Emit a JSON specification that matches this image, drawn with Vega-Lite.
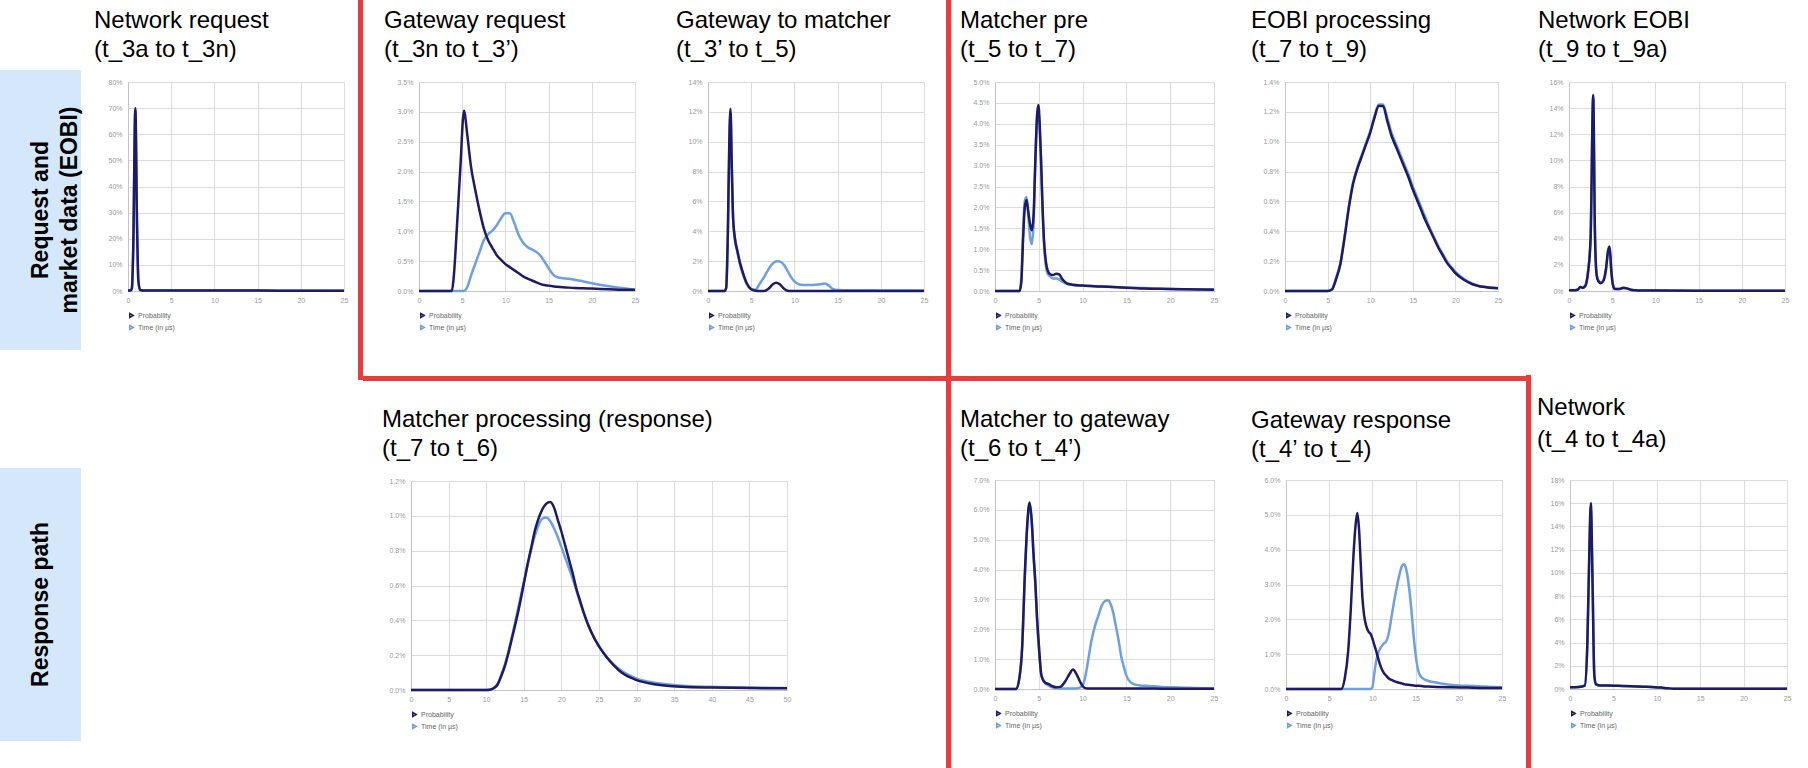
{
  "$schema": "https://vega.github.io/schema/vega-lite/v6.json",
  "padding": 0,
  "background": "white",
  "datasets": {
    "nr": [
      {"t": 0, "Probability": 0.002, "Time (in µs)": 0.002},
      {"t": 0.3, "Probability": 0.002, "Time (in µs)": 0.002},
      {"t": 0.45, "Probability": 0.01, "Time (in µs)": 0.012},
      {"t": 0.6, "Probability": 0.15, "Time (in µs)": 0.16},
      {"t": 0.85, "Probability": 0.70, "Time (in µs)": 0.69},
      {"t": 1.05, "Probability": 0.25, "Time (in µs)": 0.23},
      {"t": 1.2, "Probability": 0.04, "Time (in µs)": 0.035},
      {"t": 1.4, "Probability": 0.004, "Time (in µs)": 0.004},
      {"t": 2, "Probability": 0.002, "Time (in µs)": 0.002},
      {"t": 3, "Probability": 0.002, "Time (in µs)": 0.002},
      {"t": 5, "Probability": 0.002, "Time (in µs)": 0.002},
      {"t": 8, "Probability": 0.002, "Time (in µs)": 0.002},
      {"t": 10, "Probability": 0.002, "Time (in µs)": 0.002},
      {"t": 12, "Probability": 0.0015, "Time (in µs)": 0.0015},
      {"t": 15, "Probability": 0.0015, "Time (in µs)": 0.0015},
      {"t": 20, "Probability": 0.001, "Time (in µs)": 0.001},
      {"t": 25, "Probability": 0.001, "Time (in µs)": 0.001}
    ],
    "gr": [
      {"t": 0, "Probability": 0, "Time (in µs)": 0},
      {"t": 3.8, "Probability": 0, "Time (in µs)": 0},
      {"t": 4.0, "Probability": 0.002, "Time (in µs)": 0},
      {"t": 4.4, "Probability": 0.011, "Time (in µs)": 0},
      {"t": 4.8, "Probability": 0.021, "Time (in µs)": 0},
      {"t": 5.2, "Probability": 0.0302, "Time (in µs)": 0},
      {"t": 5.6, "Probability": 0.026, "Time (in µs)": 0.0007},
      {"t": 6.0, "Probability": 0.021, "Time (in µs)": 0.0025},
      {"t": 6.5, "Probability": 0.017, "Time (in µs)": 0.0045},
      {"t": 7.0, "Probability": 0.0135, "Time (in µs)": 0.0065},
      {"t": 7.5, "Probability": 0.0105, "Time (in µs)": 0.0085},
      {"t": 8.0, "Probability": 0.0085, "Time (in µs)": 0.0095},
      {"t": 8.5, "Probability": 0.0072, "Time (in µs)": 0.0101},
      {"t": 9.0, "Probability": 0.006, "Time (in µs)": 0.011},
      {"t": 9.5, "Probability": 0.0052, "Time (in µs)": 0.0122},
      {"t": 10.0, "Probability": 0.0045, "Time (in µs)": 0.013},
      {"t": 10.5, "Probability": 0.004, "Time (in µs)": 0.013},
      {"t": 11.0, "Probability": 0.0035, "Time (in µs)": 0.0115},
      {"t": 11.5, "Probability": 0.003, "Time (in µs)": 0.0095},
      {"t": 12.0, "Probability": 0.0025, "Time (in µs)": 0.0082},
      {"t": 12.5, "Probability": 0.0021, "Time (in µs)": 0.0074},
      {"t": 13.0, "Probability": 0.0018, "Time (in µs)": 0.007},
      {"t": 13.5, "Probability": 0.0015, "Time (in µs)": 0.0066},
      {"t": 14.0, "Probability": 0.0012, "Time (in µs)": 0.006},
      {"t": 14.5, "Probability": 0.001, "Time (in µs)": 0.005},
      {"t": 15.0, "Probability": 0.0009, "Time (in µs)": 0.0038},
      {"t": 15.5, "Probability": 0.0008, "Time (in µs)": 0.0028},
      {"t": 16, "Probability": 0.0007, "Time (in µs)": 0.0023},
      {"t": 17, "Probability": 0.0006, "Time (in µs)": 0.0021},
      {"t": 18, "Probability": 0.0005, "Time (in µs)": 0.0019},
      {"t": 19, "Probability": 0.00045, "Time (in µs)": 0.0016},
      {"t": 20, "Probability": 0.0004, "Time (in µs)": 0.0013},
      {"t": 22, "Probability": 0.0003, "Time (in µs)": 0.0008},
      {"t": 24, "Probability": 0.0002, "Time (in µs)": 0.0004},
      {"t": 25, "Probability": 0.0002, "Time (in µs)": 0.0002}
    ],
    "gm": [
      {"t": 0, "Probability": 0, "Time (in µs)": 0},
      {"t": 1.9, "Probability": 0, "Time (in µs)": 0},
      {"t": 2.1, "Probability": 0.002, "Time (in µs)": 0.002},
      {"t": 2.3, "Probability": 0.04, "Time (in µs)": 0.038},
      {"t": 2.45, "Probability": 0.095, "Time (in µs)": 0.092},
      {"t": 2.6, "Probability": 0.122, "Time (in µs)": 0.12},
      {"t": 2.75, "Probability": 0.085, "Time (in µs)": 0.083},
      {"t": 2.9, "Probability": 0.05, "Time (in µs)": 0.049},
      {"t": 3.1, "Probability": 0.036, "Time (in µs)": 0.035},
      {"t": 3.4, "Probability": 0.027, "Time (in µs)": 0.026},
      {"t": 3.7, "Probability": 0.019, "Time (in µs)": 0.018},
      {"t": 4.0, "Probability": 0.013, "Time (in µs)": 0.012},
      {"t": 4.5, "Probability": 0.005, "Time (in µs)": 0.0045},
      {"t": 5.0, "Probability": 0.0012, "Time (in µs)": 0.0012},
      {"t": 5.5, "Probability": 0.0002, "Time (in µs)": 0.001},
      {"t": 6.0, "Probability": 0, "Time (in µs)": 0.005},
      {"t": 6.5, "Probability": 0, "Time (in µs)": 0.0095},
      {"t": 7.0, "Probability": 0.0015, "Time (in µs)": 0.0145},
      {"t": 7.5, "Probability": 0.0045, "Time (in µs)": 0.0185},
      {"t": 7.9, "Probability": 0.0056, "Time (in µs)": 0.02},
      {"t": 8.3, "Probability": 0.0045, "Time (in µs)": 0.0198},
      {"t": 8.8, "Probability": 0.0015, "Time (in µs)": 0.0175},
      {"t": 9.2, "Probability": 0.0002, "Time (in µs)": 0.0135},
      {"t": 9.6, "Probability": 0, "Time (in µs)": 0.0095},
      {"t": 10.0, "Probability": 0, "Time (in µs)": 0.0065},
      {"t": 10.5, "Probability": 0, "Time (in µs)": 0.0045},
      {"t": 11, "Probability": 0, "Time (in µs)": 0.004},
      {"t": 12, "Probability": 0, "Time (in µs)": 0.004},
      {"t": 13, "Probability": 0, "Time (in µs)": 0.0045},
      {"t": 13.5, "Probability": 0, "Time (in µs)": 0.005},
      {"t": 14, "Probability": 0, "Time (in µs)": 0.0035},
      {"t": 14.5, "Probability": 0, "Time (in µs)": 0.0012},
      {"t": 15, "Probability": 0, "Time (in µs)": 0.0007},
      {"t": 17, "Probability": 0, "Time (in µs)": 0.0005},
      {"t": 20, "Probability": 0, "Time (in µs)": 0.0004},
      {"t": 25, "Probability": 0, "Time (in µs)": 0.0003}
    ],
    "mp": [
      {"t": 0, "Probability": 0, "Time (in µs)": 0},
      {"t": 2.8, "Probability": 0, "Time (in µs)": 0},
      {"t": 3.0, "Probability": 0.002, "Time (in µs)": 0.003},
      {"t": 3.2, "Probability": 0.012, "Time (in µs)": 0.014},
      {"t": 3.4, "Probability": 0.02, "Time (in µs)": 0.0215},
      {"t": 3.6, "Probability": 0.0218, "Time (in µs)": 0.0225},
      {"t": 3.8, "Probability": 0.019, "Time (in µs)": 0.018},
      {"t": 4.0, "Probability": 0.016, "Time (in µs)": 0.013},
      {"t": 4.2, "Probability": 0.0145, "Time (in µs)": 0.0112},
      {"t": 4.4, "Probability": 0.018, "Time (in µs)": 0.016},
      {"t": 4.6, "Probability": 0.031, "Time (in µs)": 0.03},
      {"t": 4.8, "Probability": 0.042, "Time (in µs)": 0.0415},
      {"t": 4.95, "Probability": 0.0445, "Time (in µs)": 0.0435},
      {"t": 5.1, "Probability": 0.04, "Time (in µs)": 0.039},
      {"t": 5.25, "Probability": 0.032, "Time (in µs)": 0.031},
      {"t": 5.4, "Probability": 0.022, "Time (in µs)": 0.021},
      {"t": 5.6, "Probability": 0.012, "Time (in µs)": 0.011},
      {"t": 5.8, "Probability": 0.0072, "Time (in µs)": 0.006},
      {"t": 6.0, "Probability": 0.005, "Time (in µs)": 0.0042},
      {"t": 6.3, "Probability": 0.004, "Time (in µs)": 0.0035},
      {"t": 6.6, "Probability": 0.0038, "Time (in µs)": 0.003},
      {"t": 7.0, "Probability": 0.0041, "Time (in µs)": 0.003},
      {"t": 7.3, "Probability": 0.004, "Time (in µs)": 0.0028},
      {"t": 7.7, "Probability": 0.0028, "Time (in µs)": 0.0022},
      {"t": 8.2, "Probability": 0.0018, "Time (in µs)": 0.0017},
      {"t": 8.8, "Probability": 0.0015, "Time (in µs)": 0.0015},
      {"t": 10, "Probability": 0.0013, "Time (in µs)": 0.0013},
      {"t": 12, "Probability": 0.0011, "Time (in µs)": 0.0011},
      {"t": 14, "Probability": 0.0009, "Time (in µs)": 0.0009},
      {"t": 17, "Probability": 0.0006, "Time (in µs)": 0.0007},
      {"t": 20, "Probability": 0.0005, "Time (in µs)": 0.0005},
      {"t": 25, "Probability": 0.0003, "Time (in µs)": 0.0004}
    ],
    "eobi": [
      {"t": 0, "Probability": 0, "Time (in µs)": 0},
      {"t": 5.0, "Probability": 0, "Time (in µs)": 0},
      {"t": 5.5, "Probability": 0.0001, "Time (in µs)": 0.0001},
      {"t": 6, "Probability": 0.0008, "Time (in µs)": 0.0009},
      {"t": 6.5, "Probability": 0.0018, "Time (in µs)": 0.0019},
      {"t": 7, "Probability": 0.0036, "Time (in µs)": 0.0037},
      {"t": 7.5, "Probability": 0.0056, "Time (in µs)": 0.0057},
      {"t": 8, "Probability": 0.0072, "Time (in µs)": 0.0073},
      {"t": 8.5, "Probability": 0.0082, "Time (in µs)": 0.0083},
      {"t": 9, "Probability": 0.009, "Time (in µs)": 0.0091},
      {"t": 9.5, "Probability": 0.0098, "Time (in µs)": 0.0099},
      {"t": 10, "Probability": 0.0106, "Time (in µs)": 0.0107},
      {"t": 10.5, "Probability": 0.0116, "Time (in µs)": 0.0117},
      {"t": 11, "Probability": 0.0124, "Time (in µs)": 0.0125},
      {"t": 11.5, "Probability": 0.0124, "Time (in µs)": 0.0125},
      {"t": 12, "Probability": 0.0114, "Time (in µs)": 0.0116},
      {"t": 12.5, "Probability": 0.0104, "Time (in µs)": 0.0106},
      {"t": 13, "Probability": 0.0097, "Time (in µs)": 0.0099},
      {"t": 13.5, "Probability": 0.009, "Time (in µs)": 0.0092},
      {"t": 14, "Probability": 0.0083, "Time (in µs)": 0.0085},
      {"t": 14.5, "Probability": 0.0076, "Time (in µs)": 0.0078},
      {"t": 15, "Probability": 0.0068, "Time (in µs)": 0.007},
      {"t": 15.5, "Probability": 0.0061, "Time (in µs)": 0.0063},
      {"t": 16, "Probability": 0.0054, "Time (in µs)": 0.0056},
      {"t": 16.5, "Probability": 0.0047, "Time (in µs)": 0.0049},
      {"t": 17, "Probability": 0.0041, "Time (in µs)": 0.0042},
      {"t": 17.5, "Probability": 0.0035, "Time (in µs)": 0.0036},
      {"t": 18, "Probability": 0.0029, "Time (in µs)": 0.003},
      {"t": 18.5, "Probability": 0.0024, "Time (in µs)": 0.0025},
      {"t": 19, "Probability": 0.0019, "Time (in µs)": 0.002},
      {"t": 19.5, "Probability": 0.00155, "Time (in µs)": 0.0016},
      {"t": 20, "Probability": 0.0012, "Time (in µs)": 0.0013},
      {"t": 21, "Probability": 0.00075, "Time (in µs)": 0.0008},
      {"t": 22, "Probability": 0.00045, "Time (in µs)": 0.0005},
      {"t": 23, "Probability": 0.0003, "Time (in µs)": 0.0003},
      {"t": 24, "Probability": 0.00022, "Time (in µs)": 0.00025},
      {"t": 25, "Probability": 0.00018, "Time (in µs)": 0.0002}
    ],
    "ne": [
      {"t": 0, "Probability": 0.0005, "Time (in µs)": 0.0005},
      {"t": 0.5, "Probability": 0.0005, "Time (in µs)": 0.0006},
      {"t": 1.0, "Probability": 0.001, "Time (in µs)": 0.001},
      {"t": 1.3, "Probability": 0.003, "Time (in µs)": 0.0028},
      {"t": 1.6, "Probability": 0.0025, "Time (in µs)": 0.0025},
      {"t": 1.9, "Probability": 0.004, "Time (in µs)": 0.0045},
      {"t": 2.2, "Probability": 0.014, "Time (in µs)": 0.015},
      {"t": 2.5, "Probability": 0.04, "Time (in µs)": 0.042},
      {"t": 2.8, "Probability": 0.15, "Time (in µs)": 0.148},
      {"t": 3.0, "Probability": 0.045, "Time (in µs)": 0.046},
      {"t": 3.2, "Probability": 0.012, "Time (in µs)": 0.013},
      {"t": 3.4, "Probability": 0.0075, "Time (in µs)": 0.008},
      {"t": 3.7, "Probability": 0.006, "Time (in µs)": 0.0065},
      {"t": 4.0, "Probability": 0.008, "Time (in µs)": 0.0085},
      {"t": 4.3, "Probability": 0.018, "Time (in µs)": 0.017},
      {"t": 4.5, "Probability": 0.03, "Time (in µs)": 0.029},
      {"t": 4.7, "Probability": 0.034, "Time (in µs)": 0.033},
      {"t": 4.9, "Probability": 0.015, "Time (in µs)": 0.016},
      {"t": 5.1, "Probability": 0.004, "Time (in µs)": 0.0045},
      {"t": 5.3, "Probability": 0.0015, "Time (in µs)": 0.0018},
      {"t": 5.8, "Probability": 0.0015, "Time (in µs)": 0.0015},
      {"t": 6.3, "Probability": 0.0025, "Time (in µs)": 0.0022},
      {"t": 6.7, "Probability": 0.002, "Time (in µs)": 0.0018},
      {"t": 7.3, "Probability": 0.0007, "Time (in µs)": 0.0007},
      {"t": 8, "Probability": 0.0004, "Time (in µs)": 0.0004},
      {"t": 10, "Probability": 0.0003, "Time (in µs)": 0.0003},
      {"t": 15, "Probability": 0.0002, "Time (in µs)": 0.0002},
      {"t": 20, "Probability": 0.0002, "Time (in µs)": 0.0002},
      {"t": 25, "Probability": 0.0002, "Time (in µs)": 0.0002}
    ],
    "mproc": [
      {"t": 0, "Probability": 0, "Time (in µs)": 0},
      {"t": 10, "Probability": 0, "Time (in µs)": 0},
      {"t": 10.5, "Probability": 0.00002, "Time (in µs)": 0.00003},
      {"t": 11, "Probability": 0.0001, "Time (in µs)": 0.00012},
      {"t": 11.5, "Probability": 0.0003, "Time (in µs)": 0.00035},
      {"t": 12, "Probability": 0.0008, "Time (in µs)": 0.00085},
      {"t": 12.5, "Probability": 0.0014, "Time (in µs)": 0.0015},
      {"t": 13, "Probability": 0.0022, "Time (in µs)": 0.0023},
      {"t": 13.5, "Probability": 0.0031, "Time (in µs)": 0.0032},
      {"t": 14, "Probability": 0.004, "Time (in µs)": 0.0042},
      {"t": 14.5, "Probability": 0.005, "Time (in µs)": 0.0052},
      {"t": 15, "Probability": 0.0061, "Time (in µs)": 0.0062},
      {"t": 15.5, "Probability": 0.0072, "Time (in µs)": 0.0072},
      {"t": 16, "Probability": 0.0082, "Time (in µs)": 0.0081},
      {"t": 16.5, "Probability": 0.0092, "Time (in µs)": 0.0089},
      {"t": 17, "Probability": 0.0099, "Time (in µs)": 0.0095},
      {"t": 17.5, "Probability": 0.0104, "Time (in µs)": 0.00985},
      {"t": 18, "Probability": 0.0107, "Time (in µs)": 0.0099},
      {"t": 18.5, "Probability": 0.0108, "Time (in µs)": 0.0097},
      {"t": 19, "Probability": 0.0105, "Time (in µs)": 0.0093},
      {"t": 19.5, "Probability": 0.0098, "Time (in µs)": 0.0088},
      {"t": 20, "Probability": 0.0091, "Time (in µs)": 0.0082},
      {"t": 20.5, "Probability": 0.0083, "Time (in µs)": 0.0076},
      {"t": 21, "Probability": 0.0075, "Time (in µs)": 0.007},
      {"t": 21.5, "Probability": 0.0067, "Time (in µs)": 0.0064},
      {"t": 22, "Probability": 0.0058, "Time (in µs)": 0.0057},
      {"t": 22.5, "Probability": 0.0051, "Time (in µs)": 0.005},
      {"t": 23, "Probability": 0.0044, "Time (in µs)": 0.0044},
      {"t": 23.5, "Probability": 0.0038, "Time (in µs)": 0.0038},
      {"t": 24, "Probability": 0.0033, "Time (in µs)": 0.0033},
      {"t": 25, "Probability": 0.0025, "Time (in µs)": 0.0025},
      {"t": 26, "Probability": 0.0019, "Time (in µs)": 0.0019},
      {"t": 27, "Probability": 0.0014, "Time (in µs)": 0.00145},
      {"t": 28, "Probability": 0.001, "Time (in µs)": 0.0011},
      {"t": 29, "Probability": 0.00075, "Time (in µs)": 0.00085},
      {"t": 30, "Probability": 0.00057, "Time (in µs)": 0.00065},
      {"t": 32, "Probability": 0.00036, "Time (in µs)": 0.00045},
      {"t": 34, "Probability": 0.00025, "Time (in µs)": 0.00033},
      {"t": 36, "Probability": 0.00019, "Time (in µs)": 0.00025},
      {"t": 40, "Probability": 0.00014, "Time (in µs)": 0.00018},
      {"t": 45, "Probability": 0.00011, "Time (in µs)": 0.00014},
      {"t": 50, "Probability": 0.0001, "Time (in µs)": 0.00012}
    ],
    "mtg": [
      {"t": 0, "Probability": 0, "Time (in µs)": 0},
      {"t": 2.4, "Probability": 0, "Time (in µs)": 0},
      {"t": 2.8, "Probability": 0.004, "Time (in µs)": 0.004},
      {"t": 3.1, "Probability": 0.014, "Time (in µs)": 0.014},
      {"t": 3.4, "Probability": 0.038, "Time (in µs)": 0.037},
      {"t": 3.7, "Probability": 0.056, "Time (in µs)": 0.055},
      {"t": 3.95, "Probability": 0.0625, "Time (in µs)": 0.062},
      {"t": 4.2, "Probability": 0.056, "Time (in µs)": 0.0555},
      {"t": 4.4, "Probability": 0.045, "Time (in µs)": 0.045},
      {"t": 4.6, "Probability": 0.036, "Time (in µs)": 0.035},
      {"t": 4.8, "Probability": 0.024, "Time (in µs)": 0.023},
      {"t": 5.0, "Probability": 0.015, "Time (in µs)": 0.014},
      {"t": 5.3, "Probability": 0.0045, "Time (in µs)": 0.0045},
      {"t": 5.7, "Probability": 0.0022, "Time (in µs)": 0.002},
      {"t": 6.1, "Probability": 0.0017, "Time (in µs)": 0.0012},
      {"t": 6.5, "Probability": 0.001, "Time (in µs)": 0.0006},
      {"t": 7.0, "Probability": 0.0006, "Time (in µs)": 0.0003},
      {"t": 7.5, "Probability": 0.0008, "Time (in µs)": 0.0002},
      {"t": 8.0, "Probability": 0.0025, "Time (in µs)": 0.0002},
      {"t": 8.5, "Probability": 0.005, "Time (in µs)": 0.0002},
      {"t": 8.9, "Probability": 0.0065, "Time (in µs)": 0.0002},
      {"t": 9.3, "Probability": 0.005, "Time (in µs)": 0.0002},
      {"t": 9.7, "Probability": 0.0025, "Time (in µs)": 0.0005},
      {"t": 10.0, "Probability": 0.001, "Time (in µs)": 0.0012},
      {"t": 10.3, "Probability": 0.0003, "Time (in µs)": 0.004},
      {"t": 10.6, "Probability": 0.0002, "Time (in µs)": 0.009},
      {"t": 11.0, "Probability": 0.0002, "Time (in µs)": 0.016},
      {"t": 11.4, "Probability": 0.0002, "Time (in µs)": 0.021},
      {"t": 11.8, "Probability": 0.0002, "Time (in µs)": 0.0246},
      {"t": 12.2, "Probability": 0.0002, "Time (in µs)": 0.028},
      {"t": 12.6, "Probability": 0.0002, "Time (in µs)": 0.0295},
      {"t": 12.9, "Probability": 0.0002, "Time (in µs)": 0.0297},
      {"t": 13.2, "Probability": 0.0002, "Time (in µs)": 0.0285},
      {"t": 13.5, "Probability": 0.0002, "Time (in µs)": 0.0255},
      {"t": 13.8, "Probability": 0.0002, "Time (in µs)": 0.021},
      {"t": 14.1, "Probability": 0.0002, "Time (in µs)": 0.0165},
      {"t": 14.4, "Probability": 0.0002, "Time (in µs)": 0.011},
      {"t": 14.7, "Probability": 0.0002, "Time (in µs)": 0.0075},
      {"t": 15.0, "Probability": 0.0002, "Time (in µs)": 0.0045},
      {"t": 15.3, "Probability": 0.0002, "Time (in µs)": 0.0028},
      {"t": 15.7, "Probability": 0.0002, "Time (in µs)": 0.0018},
      {"t": 16.5, "Probability": 0.0002, "Time (in µs)": 0.0012},
      {"t": 17.5, "Probability": 0.0002, "Time (in µs)": 0.001},
      {"t": 19, "Probability": 0.0001, "Time (in µs)": 0.0007},
      {"t": 21, "Probability": 0.0001, "Time (in µs)": 0.0005},
      {"t": 23, "Probability": 0.0001, "Time (in µs)": 0.0003},
      {"t": 25, "Probability": 0.0001, "Time (in µs)": 0.0002}
    ],
    "gresp": [
      {"t": 0, "Probability": 0, "Time (in µs)": 0},
      {"t": 6.4, "Probability": 0, "Time (in µs)": 0},
      {"t": 6.8, "Probability": 0.003, "Time (in µs)": 0},
      {"t": 7.2, "Probability": 0.011, "Time (in µs)": 0},
      {"t": 7.5, "Probability": 0.023, "Time (in µs)": 0},
      {"t": 7.8, "Probability": 0.038, "Time (in µs)": 0},
      {"t": 8.05, "Probability": 0.047, "Time (in µs)": 0},
      {"t": 8.25, "Probability": 0.0505, "Time (in µs)": 0},
      {"t": 8.45, "Probability": 0.046, "Time (in µs)": 0},
      {"t": 8.65, "Probability": 0.036, "Time (in µs)": 0},
      {"t": 8.85, "Probability": 0.026, "Time (in µs)": 0},
      {"t": 9.05, "Probability": 0.021, "Time (in µs)": 0},
      {"t": 9.3, "Probability": 0.018, "Time (in µs)": 0},
      {"t": 9.55, "Probability": 0.0165, "Time (in µs)": 0},
      {"t": 9.8, "Probability": 0.0158, "Time (in µs)": 0},
      {"t": 10.0, "Probability": 0.0145, "Time (in µs)": 0.0005},
      {"t": 10.2, "Probability": 0.0128, "Time (in µs)": 0.004},
      {"t": 10.4, "Probability": 0.0112, "Time (in µs)": 0.0075},
      {"t": 10.7, "Probability": 0.0085, "Time (in µs)": 0.0105},
      {"t": 11.0, "Probability": 0.0062, "Time (in µs)": 0.012},
      {"t": 11.3, "Probability": 0.0047, "Time (in µs)": 0.013},
      {"t": 11.6, "Probability": 0.0038, "Time (in µs)": 0.0137},
      {"t": 11.9, "Probability": 0.003, "Time (in µs)": 0.016},
      {"t": 12.2, "Probability": 0.0026, "Time (in µs)": 0.0205},
      {"t": 12.5, "Probability": 0.0023, "Time (in µs)": 0.025},
      {"t": 12.8, "Probability": 0.002, "Time (in µs)": 0.029},
      {"t": 13.1, "Probability": 0.0018, "Time (in µs)": 0.0325},
      {"t": 13.4, "Probability": 0.0016, "Time (in µs)": 0.0352},
      {"t": 13.65, "Probability": 0.0014, "Time (in µs)": 0.0358},
      {"t": 13.9, "Probability": 0.0013, "Time (in µs)": 0.0345},
      {"t": 14.2, "Probability": 0.0012, "Time (in µs)": 0.03},
      {"t": 14.5, "Probability": 0.0011, "Time (in µs)": 0.023},
      {"t": 14.8, "Probability": 0.001, "Time (in µs)": 0.0145},
      {"t": 15.1, "Probability": 0.0009, "Time (in µs)": 0.008},
      {"t": 15.4, "Probability": 0.0009, "Time (in µs)": 0.0045},
      {"t": 15.8, "Probability": 0.0008, "Time (in µs)": 0.0031},
      {"t": 16.5, "Probability": 0.0007, "Time (in µs)": 0.0023},
      {"t": 17.5, "Probability": 0.0006, "Time (in µs)": 0.0018},
      {"t": 19, "Probability": 0.0005, "Time (in µs)": 0.0012},
      {"t": 21, "Probability": 0.0004, "Time (in µs)": 0.0009},
      {"t": 23, "Probability": 0.0003, "Time (in µs)": 0.0007},
      {"t": 25, "Probability": 0.0003, "Time (in µs)": 0.0005}
    ],
    "net": [
      {"t": 0, "Probability": 0.0015, "Time (in µs)": 0.0015},
      {"t": 1, "Probability": 0.0018, "Time (in µs)": 0.0018},
      {"t": 1.7, "Probability": 0.003, "Time (in µs)": 0.003},
      {"t": 2.0, "Probability": 0.04, "Time (in µs)": 0.038},
      {"t": 2.2, "Probability": 0.11, "Time (in µs)": 0.105},
      {"t": 2.4, "Probability": 0.16, "Time (in µs)": 0.158},
      {"t": 2.6, "Probability": 0.09, "Time (in µs)": 0.092},
      {"t": 2.8, "Probability": 0.012, "Time (in µs)": 0.013},
      {"t": 3.0, "Probability": 0.004, "Time (in µs)": 0.004},
      {"t": 3.5, "Probability": 0.003, "Time (in µs)": 0.003},
      {"t": 4.4, "Probability": 0.003, "Time (in µs)": 0.003},
      {"t": 5.5, "Probability": 0.0027, "Time (in µs)": 0.0027},
      {"t": 7.1, "Probability": 0.0023, "Time (in µs)": 0.0023},
      {"t": 8.5, "Probability": 0.002, "Time (in µs)": 0.002},
      {"t": 9.8, "Probability": 0.0016, "Time (in µs)": 0.0016},
      {"t": 10.5, "Probability": 0.0012, "Time (in µs)": 0.0012},
      {"t": 11.3, "Probability": 0.0006, "Time (in µs)": 0.0006},
      {"t": 12, "Probability": 0.0003, "Time (in µs)": 0.0003},
      {"t": 15, "Probability": 0.0003, "Time (in µs)": 0.0003},
      {"t": 20, "Probability": 0.0002, "Time (in µs)": 0.0002},
      {"t": 25, "Probability": 0.0002, "Time (in µs)": 0.0002}
    ]
  },
  "spacing": 0,
  "resolve": {"scale": {"color": "independent"}},
  "hconcat": [
    {
      "spacing": 0,
      "vconcat": [
        {"width": 93, "height": 70, "data": {"values": []}, "mark": "rect", "encoding": {}},
        {"width": 81, "height": 280, "view": {"fill": "#d5e8fb"},
         "data": {"values": [{"label": "Request and\nmarket data (EOBI)"}]},
         "mark": {"type": "text", "angle": 270, "fontSize": 23, "fontWeight": "bold", "font": "Liberation Sans", "lineBreak": "\n", "lineHeight": 29, "align": "center", "baseline": "middle", "color": "#000000"},
         "encoding": {"text": {"field": "label"}}},
        {"width": 93, "height": 118, "data": {"values": []}, "mark": "rect", "encoding": {}},
        {"width": 81, "height": 273, "view": {"fill": "#d5e8fb"},
         "data": {"values": [{"label": "Response path"}]},
         "mark": {"type": "text", "angle": 270, "fontSize": 23, "fontWeight": "bold", "font": "Liberation Sans", "align": "center", "baseline": "middle", "color": "#000000"},
         "encoding": {"text": {"field": "label"}}}
      ]
    },
    {
      "spacing": 0,
      "resolve": {"scale": {"color": "independent"}},
      "vconcat": [
        {"width": 230, "height": 8, "data": {"values": []}, "mark": "rect", "encoding": {}},
        {"width": 216, "height": 209, "view": {"stroke": "#d6d6d6"},
         "title": {"text": ["Network request", "(t_3a to t_3n)"], "dx": -34, "offset": 16},
         "data": {"name": "nr"},
         "transform": [{"fold": ["Time (in µs)", "Probability"], "as": ["series", "share"]}],
         "mark": {"type": "line", "interpolate": "monotone", "strokeWidth": 2.5},
         "encoding": {
           "x": {"field": "t", "type": "quantitative", "scale": {"domain": [0, 25], "nice": false}, "axis": {"values": [0, 5, 10, 15, 20, 25], "title": null}},
           "y": {"field": "share", "type": "quantitative", "scale": {"domain": [0, 0.8], "nice": false}, "axis": {"values": [0, 0.1, 0.2, 0.3, 0.4, 0.5, 0.6, 0.7, 0.8], "format": ".0%", "title": null}},
           "color": {"field": "series", "type": "nominal", "scale": {"domain": ["Probability", "Time (in µs)"], "range": ["#1d1a66", "#6ea0e0"]}, "legend": {"title": null}}
         }}
      ]
    },
    {"width": 5, "height": 380, "data": {"values": []}, "mark": "rect", "encoding": {}, "view": {"fill": "#eb3b3b"}},
    {
      "spacing": 0,
      "resolve": {"scale": {"color": "independent"}},
      "vconcat": [
        {"width": 583, "height": 8, "data": {"values": []}, "mark": "rect", "encoding": {}},
        {
          "spacing": 0,
          "resolve": {"scale": {"color": "independent"}},
          "hconcat": [
            {"width": 20, "height": 294, "data": {"values": []}, "mark": "rect", "encoding": {}},
            {"width": 216, "height": 209, "view": {"stroke": "#d6d6d6"},
             "title": {"text": ["Gateway request", "(t_3n to t_3’)"], "dx": -35, "offset": 16},
             "data": {"name": "gr"},
             "transform": [{"fold": ["Time (in µs)", "Probability"], "as": ["series", "share"]}],
             "mark": {"type": "line", "interpolate": "monotone", "strokeWidth": 2.5},
             "encoding": {
               "x": {"field": "t", "type": "quantitative", "scale": {"domain": [0, 25], "nice": false}, "axis": {"values": [0, 5, 10, 15, 20, 25], "title": null}},
               "y": {"field": "share", "type": "quantitative", "scale": {"domain": [0, 0.035], "nice": false}, "axis": {"values": [0, 0.005, 0.01, 0.015, 0.02, 0.025, 0.03, 0.035], "format": ".1%", "title": null}},
               "color": {"field": "series", "type": "nominal", "scale": {"domain": ["Probability", "Time (in µs)"], "range": ["#1d1a66", "#6ea0e0"]}, "legend": {"title": null}}
             }},
            {"width": 34, "height": 1, "data": {"values": []}, "mark": "rect", "encoding": {}},
            {"width": 216, "height": 209, "view": {"stroke": "#d6d6d6"},
             "title": {"text": ["Gateway to matcher", "(t_3’ to t_5)"], "dx": -32, "offset": 16},
             "data": {"name": "gm"},
             "transform": [{"fold": ["Time (in µs)", "Probability"], "as": ["series", "share"]}],
             "mark": {"type": "line", "interpolate": "monotone", "strokeWidth": 2.5},
             "encoding": {
               "x": {"field": "t", "type": "quantitative", "scale": {"domain": [0, 25], "nice": false}, "axis": {"values": [0, 5, 10, 15, 20, 25], "title": null}},
               "y": {"field": "share", "type": "quantitative", "scale": {"domain": [0, 0.14], "nice": false}, "axis": {"values": [0, 0.02, 0.04, 0.06, 0.08, 0.1, 0.12, 0.14], "format": ".0%", "title": null}},
               "color": {"field": "series", "type": "nominal", "scale": {"domain": ["Probability", "Time (in µs)"], "range": ["#1d1a66", "#6ea0e0"]}, "legend": {"title": null}}
             }}
          ]
        },
        {"width": 583, "height": 5, "data": {"values": []}, "mark": "rect", "encoding": {}, "view": {"fill": "#eb3b3b"}},
        {"width": 583, "height": 26, "data": {"values": []}, "mark": "rect", "encoding": {}},
        {
          "spacing": 0,
          "resolve": {"scale": {"color": "independent"}},
          "hconcat": [
            {"width": 18, "height": 1, "data": {"values": []}, "mark": "rect", "encoding": {}},
            {"width": 376, "height": 209, "view": {"stroke": "#d6d6d6"},
             "title": {"text": ["Matcher processing (response)", "(t_7 to t_6)"], "dx": -29, "offset": 16},
             "data": {"name": "mproc"},
             "transform": [{"fold": ["Time (in µs)", "Probability"], "as": ["series", "share"]}],
             "mark": {"type": "line", "interpolate": "monotone", "strokeWidth": 2.5},
             "encoding": {
               "x": {"field": "t", "type": "quantitative", "scale": {"domain": [0, 50], "nice": false}, "axis": {"values": [0, 5, 10, 15, 20, 25, 30, 35, 40, 45, 50], "title": null}},
               "y": {"field": "share", "type": "quantitative", "scale": {"domain": [0, 0.012], "nice": false}, "axis": {"values": [0, 0.002, 0.004, 0.006, 0.008, 0.01, 0.012], "format": ".1%", "title": null}},
               "color": {"field": "series", "type": "nominal", "scale": {"domain": ["Probability", "Time (in µs)"], "range": ["#1d1a66", "#6ea0e0"]}, "legend": {"title": null}}
             }}
          ]
        }
      ]
    },
    {"width": 5, "height": 768, "data": {"values": []}, "mark": "rect", "encoding": {}, "view": {"fill": "#eb3b3b"}},
    {
      "spacing": 0,
      "resolve": {"scale": {"color": "independent"}},
      "vconcat": [
        {"width": 575, "height": 8, "data": {"values": []}, "mark": "rect", "encoding": {}},
        {
          "spacing": 0,
          "resolve": {"scale": {"color": "independent"}},
          "hconcat": [
            {"width": 8, "height": 294, "data": {"values": []}, "mark": "rect", "encoding": {}},
            {"width": 219, "height": 209, "view": {"stroke": "#d6d6d6"},
             "title": {"text": ["Matcher pre", "(t_5 to t_7)"], "dx": -35, "offset": 16},
             "data": {"name": "mp"},
             "transform": [{"fold": ["Time (in µs)", "Probability"], "as": ["series", "share"]}],
             "mark": {"type": "line", "interpolate": "monotone", "strokeWidth": 2.5},
             "encoding": {
               "x": {"field": "t", "type": "quantitative", "scale": {"domain": [0, 25], "nice": false}, "axis": {"values": [0, 5, 10, 15, 20, 25], "title": null}},
               "y": {"field": "share", "type": "quantitative", "scale": {"domain": [0, 0.05], "nice": false}, "axis": {"values": [0, 0.005, 0.01, 0.015, 0.02, 0.025, 0.03, 0.035, 0.04, 0.045, 0.05], "format": ".1%", "title": null}},
               "color": {"field": "series", "type": "nominal", "scale": {"domain": ["Probability", "Time (in µs)"], "range": ["#1d1a66", "#6ea0e0"]}, "legend": {"title": null}}
             }},
            {"width": 30, "height": 1, "data": {"values": []}, "mark": "rect", "encoding": {}},
            {"width": 213, "height": 209, "view": {"stroke": "#d6d6d6"},
             "title": {"text": ["EOBI processing", "(t_7 to t_9)"], "dx": -34, "offset": 16},
             "data": {"name": "eobi"},
             "transform": [{"fold": ["Time (in µs)", "Probability"], "as": ["series", "share"]}],
             "mark": {"type": "line", "interpolate": "monotone", "strokeWidth": 2.5},
             "encoding": {
               "x": {"field": "t", "type": "quantitative", "scale": {"domain": [0, 25], "nice": false}, "axis": {"values": [0, 5, 10, 15, 20, 25], "title": null}},
               "y": {"field": "share", "type": "quantitative", "scale": {"domain": [0, 0.014], "nice": false}, "axis": {"values": [0, 0.002, 0.004, 0.006, 0.008, 0.01, 0.012, 0.014], "format": ".1%", "title": null}},
               "color": {"field": "series", "type": "nominal", "scale": {"domain": ["Probability", "Time (in µs)"], "range": ["#1d1a66", "#6ea0e0"]}, "legend": {"title": null}}
             }}
          ]
        },
        {"width": 575, "height": 5, "data": {"values": []}, "mark": "rect", "encoding": {}, "view": {"fill": "#eb3b3b"}},
        {"width": 575, "height": 26, "data": {"values": []}, "mark": "rect", "encoding": {}},
        {
          "spacing": 0,
          "resolve": {"scale": {"color": "independent"}},
          "hconcat": [
            {"width": 8, "height": 1, "data": {"values": []}, "mark": "rect", "encoding": {}},
            {"width": 219, "height": 209, "view": {"stroke": "#d6d6d6"},
             "title": {"text": ["Matcher to gateway", "(t_6 to t_4’)"], "dx": -35, "offset": 15},
             "data": {"name": "mtg"},
             "transform": [{"fold": ["Time (in µs)", "Probability"], "as": ["series", "share"]}],
             "mark": {"type": "line", "interpolate": "monotone", "strokeWidth": 2.5},
             "encoding": {
               "x": {"field": "t", "type": "quantitative", "scale": {"domain": [0, 25], "nice": false}, "axis": {"values": [0, 5, 10, 15, 20, 25], "title": null}},
               "y": {"field": "share", "type": "quantitative", "scale": {"domain": [0, 0.07], "nice": false}, "axis": {"values": [0, 0.01, 0.02, 0.03, 0.04, 0.05, 0.06, 0.07], "format": ".1%", "title": null}},
               "color": {"field": "series", "type": "nominal", "scale": {"domain": ["Probability", "Time (in µs)"], "range": ["#1d1a66", "#6ea0e0"]}, "legend": {"title": null}}
             }},
            {"width": 30, "height": 1, "data": {"values": []}, "mark": "rect", "encoding": {}},
            {"width": 216, "height": 209, "view": {"stroke": "#d6d6d6"},
             "title": {"text": ["Gateway response", "(t_4’ to t_4)"], "dx": -35, "offset": 14},
             "data": {"name": "gresp"},
             "transform": [{"fold": ["Time (in µs)", "Probability"], "as": ["series", "share"]}],
             "mark": {"type": "line", "interpolate": "monotone", "strokeWidth": 2.5},
             "encoding": {
               "x": {"field": "t", "type": "quantitative", "scale": {"domain": [0, 25], "nice": false}, "axis": {"values": [0, 5, 10, 15, 20, 25], "title": null}},
               "y": {"field": "share", "type": "quantitative", "scale": {"domain": [0, 0.06], "nice": false}, "axis": {"values": [0, 0.01, 0.02, 0.03, 0.04, 0.05, 0.06], "format": ".1%", "title": null}},
               "color": {"field": "series", "type": "nominal", "scale": {"domain": ["Probability", "Time (in µs)"], "range": ["#1d1a66", "#6ea0e0"]}, "legend": {"title": null}}
             }}
          ]
        }
      ]
    },
    {
      "spacing": 0,
      "vconcat": [
        {"width": 5, "height": 375, "data": {"values": []}, "mark": "rect", "encoding": {}},
        {"width": 5, "height": 393, "data": {"values": []}, "mark": "rect", "encoding": {}, "view": {"fill": "#eb3b3b"}}
      ]
    },
    {
      "spacing": 0,
      "resolve": {"scale": {"color": "independent"}},
      "vconcat": [
        {"width": 272, "height": 8, "data": {"values": []}, "mark": "rect", "encoding": {}},
        {
          "spacing": 0,
          "resolve": {"scale": {"color": "independent"}},
          "hconcat": [
            {"width": 6, "height": 313, "data": {"values": []}, "mark": "rect", "encoding": {}},
            {"width": 216, "height": 209, "view": {"stroke": "#d6d6d6"},
             "title": {"text": ["Network EOBI", "(t_9 to t_9a)"], "dx": -31, "offset": 16},
             "data": {"name": "ne"},
             "transform": [{"fold": ["Time (in µs)", "Probability"], "as": ["series", "share"]}],
             "mark": {"type": "line", "interpolate": "monotone", "strokeWidth": 2.5},
             "encoding": {
               "x": {"field": "t", "type": "quantitative", "scale": {"domain": [0, 25], "nice": false}, "axis": {"values": [0, 5, 10, 15, 20, 25], "title": null}},
               "y": {"field": "share", "type": "quantitative", "scale": {"domain": [0, 0.16], "nice": false}, "axis": {"values": [0, 0.02, 0.04, 0.06, 0.08, 0.1, 0.12, 0.14, 0.16], "format": ".0%", "title": null}},
               "color": {"field": "series", "type": "nominal", "scale": {"domain": ["Probability", "Time (in µs)"], "range": ["#1d1a66", "#6ea0e0"]}, "legend": {"title": null}}
             }}
          ]
        },
        {
          "spacing": 0,
          "resolve": {"scale": {"color": "independent"}},
          "hconcat": [
            {"width": 5, "height": 1, "data": {"values": []}, "mark": "rect", "encoding": {}},
            {"width": 217, "height": 209, "view": {"stroke": "#d6d6d6"},
             "title": {"text": ["Network", "(t_4 to t_4a)"], "dx": -33, "offset": 24, "lineHeight": 32},
             "data": {"name": "net"},
             "transform": [{"fold": ["Time (in µs)", "Probability"], "as": ["series", "share"]}],
             "mark": {"type": "line", "interpolate": "monotone", "strokeWidth": 2.5},
             "encoding": {
               "x": {"field": "t", "type": "quantitative", "scale": {"domain": [0, 25], "nice": false}, "axis": {"values": [0, 5, 10, 15, 20, 25], "title": null}},
               "y": {"field": "share", "type": "quantitative", "scale": {"domain": [0, 0.18], "nice": false}, "axis": {"values": [0, 0.02, 0.04, 0.06, 0.08, 0.1, 0.12, 0.14, 0.16, 0.18], "format": ".0%", "title": null}},
               "color": {"field": "series", "type": "nominal", "scale": {"domain": ["Probability", "Time (in µs)"], "range": ["#1d1a66", "#6ea0e0"]}, "legend": {"title": null}}
             }}
          ]
        }
      ]
    }
  ],
  "config": {
    "view": {"stroke": null},
    "concat": {"spacing": 0},
    "font": "Liberation Sans",
    "title": {"anchor": "start", "frame": "group", "fontSize": 24, "fontWeight": "normal", "font": "Liberation Sans", "color": "#000000", "lineHeight": 29},
    "axis": {"labelFontSize": 7, "labelColor": "#9a9a9a", "labelFont": "Liberation Sans", "ticks": false, "gridColor": "#dcdcdc", "gridWidth": 1, "domainColor": "#c4c4c4", "domainWidth": 1, "labelOverlap": false},
    "axisX": {"labelFlush": false, "labelPadding": 5},
    "axisY": {"labelPadding": 6},
    "legend": {"orient": "bottom", "direction": "vertical", "labelFontSize": 7, "labelColor": "#666666", "labelFont": "Liberation Sans", "symbolType": "triangle-right", "symbolSize": 16, "rowPadding": 1, "offset": 9, "padding": 0, "labelOffset": 3}
  }
}
